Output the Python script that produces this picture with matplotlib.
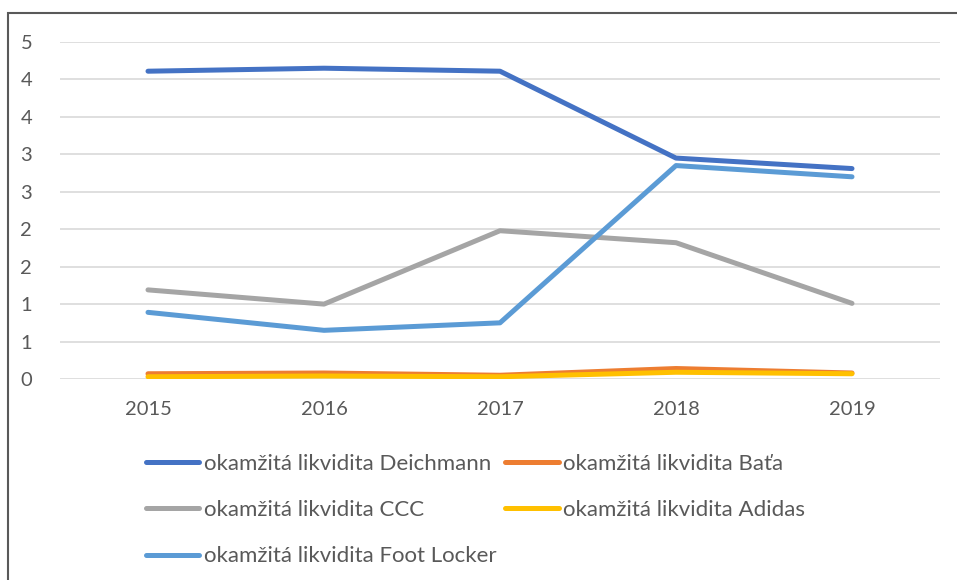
import matplotlib.pyplot as plt
import matplotlib.patches as patches
import numpy as np

years = ["2015", "2016", "2017", "2018", "2019"]
deichmann = [4.11, 4.15, 4.11, 2.95, 2.81]
bata = [0.07, 0.08, 0.05, 0.14, 0.08]
ccc = [1.19, 1.00, 1.98, 1.82, 1.01]
adidas = [0.03, 0.04, 0.03, 0.09, 0.07]
foot_locker = [0.89, 0.65, 0.75, 2.85, 2.70]

y_ticks = [0, 0.5, 1, 1.5, 2, 2.5, 3, 3.5, 4, 4.5]
y_labels = ["0", "1", "1", "2", "2", "3", "3", "4", "4", "5"]

plt.rcParams["font.family"] = ["Lato", "DejaVu Sans"]

W, H = 957, 580
fig = plt.figure(figsize=(W / 100, H / 100), dpi=100)
ax = fig.add_axes([60 / W, 1 - 379 / H, 880 / W, 337 / H])

x = np.arange(len(years))
series = [
    ("okamžitá likvidita Deichmann", deichmann, "#4472c4"),
    ("okamžitá likvidita Baťa", bata, "#ed7d31"),
    ("okamžitá likvidita CCC", ccc, "#a5a5a5"),
    ("okamžitá likvidita Adidas", adidas, "#ffc000"),
    ("okamžitá likvidita Foot Locker", foot_locker, "#5b9bd5"),
]
lines = {}
for name, vals, col in series:
    (ln,) = ax.plot(x, vals, color=col, lw=3.6, solid_capstyle="round", solid_joinstyle="round")
    lines[name] = ln

ax.set_xlim(-0.5, 4.5)
ax.set_xticks(x)
ax.set_xticklabels(years)
ax.set_yticks(y_ticks)
ax.set_yticklabels(y_labels)
ax.set_ylim(0, 4.5)
ax.grid(axis="y", color="#d9d9d9", lw=1.2)
ax.set_axisbelow(True)
for s in ax.spines.values():
    s.set_visible(False)
ax.tick_params(length=0, labelsize=14.5, labelcolor="#595959")
ax.tick_params(axis="x", pad=16)
ax.tick_params(axis="y", pad=20)

order = [
    "okamžitá likvidita Deichmann",
    "okamžitá likvidita CCC",
    "okamžitá likvidita Foot Locker",
    "okamžitá likvidita Baťa",
    "okamžitá likvidita Adidas",
]
leg = fig.legend(
    [lines[n] for n in order], order, ncol=2, loc="upper left",
    bbox_to_anchor=(126 / W, 1 - 434 / H), frameon=False, fontsize=16,
    handlelength=2.4, handletextpad=0.2, columnspacing=0.4, labelspacing=1.18,
)
for t in leg.get_texts():
    t.set_color("#595959")

fig.patches.append(patches.Rectangle((8 / W, -0.05), 1.0, 1 - 13 / H + 0.05,
                                     transform=fig.transFigure, fill=False,
                                     edgecolor="#595959", lw=1.5))

fig.savefig("out.png", dpi=100)
